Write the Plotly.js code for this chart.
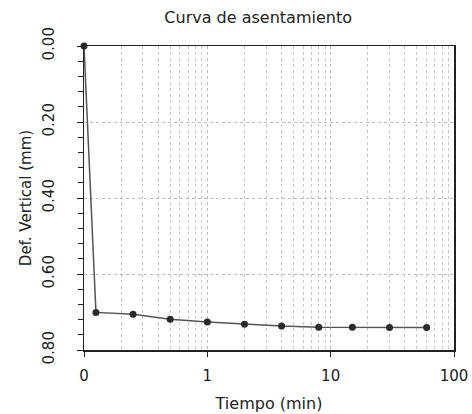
<!DOCTYPE html>
<html>
<head>
<meta charset="utf-8">
<script src="https://cdn.plot.ly/plotly-3.0.1.min.js"></script>
<style>html,body{margin:0;padding:0;background:#fff;}#chart{width:472px;height:414px;}</style>
</head>
<body>
<div id="chart"></div>
<script>
// Data
const tiempoMin = [0.1, 0.125, 0.25, 0.5, 1, 2, 4, 8, 15, 30, 60];
const defVertical = [0.0, 0.701, 0.706, 0.719, 0.726, 0.732, 0.737, 0.740, 0.740, 0.741, 0.741];
const xTickVals = [0.1, 1, 10, 100];
const xTickText = ["0", "1", "10", "100"];

const minorVals = [];
for (let d = 0.1; d < 100; d *= 10) {
  for (let k = 2; k <= 9; k++) minorVals.push(+(k * d).toPrecision(3));
}

const trace = {
  x: tiempoMin,
  y: defVertical,
  type: 'scatter',
  mode: 'lines+markers',
  line: {color: '#555', width: 1.5},
  marker: {color: '#2b2b2b', size: 7, symbol: 'circle'},
  cliponaxis: false,
  hoverinfo: 'x+y'
};

const font = 'DejaVu Sans, Verdana, sans-serif';
const layout = {
  width: 472, height: 414,
  margin: {l: 84, r: 18, t: 46, b: 64},
  paper_bgcolor: '#fff',
  plot_bgcolor: '#fff',
  showlegend: false,
  font: {family: font, color: '#222'},
  title: {
    text: 'Curva de asentamiento',
    font: {family: font, size: 16, color: '#222'},
    x: 0.547, xref: 'container', xanchor: 'center',
    y: 0.957, yref: 'container', yanchor: 'middle'
  },
  xaxis: {
    type: 'log',
    range: [-1, 2],
    tickmode: 'array',
    tickvals: xTickVals,
    ticktext: xTickText,
    tickfont: {size: 15, family: font, color: '#222'},
    ticks: 'outside', ticklen: 5, tickcolor: '#222',
    ticklabelstandoff: 6,
    showline: true, linecolor: '#222', linewidth: 1.5, mirror: true,
    showgrid: true, gridcolor: '#bbb', griddash: 'dot', gridwidth: 1,
    minor: {tickmode: 'array', tickvals: minorVals, showgrid: true, gridcolor: '#c8c8c8', griddash: 'dot', gridwidth: 1, ticks: ''},
    zeroline: false,
    title: {text: 'Tiempo (min)', font: {size: 16, family: font, color: '#222'}, standoff: 14}
  },
  yaxis: {
    range: [0.8, 0],
    tickmode: 'linear', tick0: 0, dtick: 0.2,
    tickformat: '.2f',
    tickangle: -90,
    tickfont: {size: 15, family: font, color: '#222'},
    ticks: 'outside', ticklen: 6, tickcolor: '#222',
    ticklabelstandoff: 17,
    minor: {dtick: 0.04, ticks: 'outside', ticklen: 5, tickcolor: '#222', showgrid: false},
    showline: true, linecolor: '#222', linewidth: 1.5, mirror: true,
    showgrid: true, gridcolor: '#bbb', griddash: 'dot', gridwidth: 1,
    zeroline: false,
    title: {text: 'Def. Vertical (mm)', font: {size: 15, family: font, color: '#222'}, standoff: 4}
  }
};

Plotly.newPlot('chart', [trace], layout, {staticPlot: true, displayModeBar: false});
</script>
</body>
</html>
